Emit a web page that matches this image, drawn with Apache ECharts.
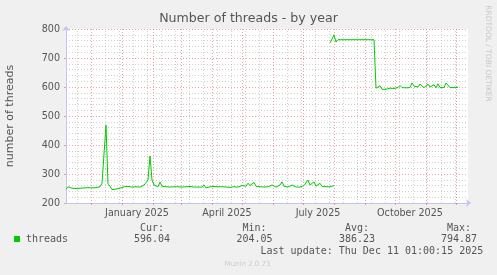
<!DOCTYPE html>
<html><head><meta charset="utf-8">
<script src="https://cdn.jsdelivr.net/npm/echarts@6/dist/echarts.min.js"></script>
<style>html,body{margin:0;padding:0;background:#f0f0f0}#c{width:497px;height:275px}</style>
</head><body><div id="c"></div>
<script>
// ---- data ----
const startDate = '2024-11-06';   // left edge of the plot
const endDate = '2025-12-13';     // right edge of the plot
const stepDays = 2;
const lowStart = '2024-11-06';
const lowValues = [248,256,252,251,253,250,252,251,250,252,
  251,253,258,252,250,253,251,256,268,262,
  468,265,258,246,243,248,250,251,252,256,
  255,257,256,255,258,256,257,255,260,262,
  270,280,362,279,262,258,256,272,258,257,
  256,258,255,257,256,259,256,258,255,257,
  256,255,257,256,255,256,255,256,255,262,
  252,255,256,254,257,255,256,254,256,257,
  255,256,254,257,256,258,255,256,260,256,
  258,268,260,263,271,258,262,256,257,255,
  258,256,257,262,256,255,257,262,273,258,
  256,255,257,262,256,255,256,255,256,260,
  265,279,262,258,273,258,256,268,257,262,
  256,260,256,258,260];
const highStart = '2025-07-28';
const highValues = [752,765,780,755,763,
  763,763,763,763,763,763,763,763,763,763,763,763,763,763,763,763,763,763,
  596,600,604,592,589,592,594,596,598,595,
  597,598,605,598,597,597,596,598,614,603,
  597,600,610,605,598,600,610,600,597,608,
  597,611,598,597,598,614,609,598,597,598,
  596,599];
const monthStarts = ['2024-12-01','2025-01-01','2025-02-01','2025-03-01','2025-04-01','2025-05-01',
  '2025-06-01','2025-07-01','2025-08-01','2025-09-01','2025-10-01','2025-11-01','2025-12-01'];
const labelMonths = ['2025-01-01','2025-04-01','2025-07-01','2025-10-01'];
const labelTexts = ['January 2025','April 2025','July 2025','October 2025'];
const firstMinorGrid = '2024-11-17';
const minorGridDays = 14;
const yTicks = [200,300,400,500,600,700,800];
const seriesName = 'threads';
const statLabels = ['Cur:','Min:','Avg:','Max:'];
const statValues = ['596.04','204.05','386.23','794.87'];
const lastUpdate = 'Last update: Thu Dec 11 01:00:15 2025';

// ---- helpers ----
const DAY = 86400000;
const t0 = Date.parse(startDate);
const dayOf = s => (Date.parse(s) - t0) / DAY;
const xMax = dayOf(endDate);
const series1 = [];
lowValues.forEach((v, i) => series1.push([dayOf(lowStart) + i * stepDays, v]));
series1.push([(dayOf(lowStart) + (lowValues.length - 1) * stepDays + dayOf(highStart)) / 2, '-']);
highValues.forEach((v, i) => series1.push([dayOf(highStart) + i * stepDays, v]));
const monthDays = monthStarts.map(dayOf);
const labelDays = labelMonths.map(s => dayOf(s) + 15);
const minorDays = [];
for (let d = dayOf(firstMinorGrid); d < xMax; d += minorGridDays) {
  if (monthDays.indexOf(d) < 0) minorDays.push(d);
}

const txt = '#555555';
const axisColor = '#c4c4f2';
const redGrid = 'rgba(230,90,90,0.55)';
const grayGrid = 'rgba(150,150,150,0.45)';
const mono = '"DejaVu Sans Mono", monospace';
const sans = '"DejaVu Sans", sans-serif';

const statRight = [170, 272.5, 375, 477];
const graphics = [
  {type:'text', x:10, y:116, rotation:Math.PI/2,
   style:{text:'number of threads', font:'11px ' + sans, fill:txt, align:'center', verticalAlign:'middle'}},
  {type:'text', x:488, y:53.5, rotation:-Math.PI/2,
   style:{text:'RRDTOOL / TOBI OETIKER', font:'7.5px ' + sans, fill:'#c8c8c8', align:'center', verticalAlign:'middle'}},
  {type:'text', x:247.5, y:264,
   style:{text:'Munin 2.0.73', font:'7px ' + sans, fill:'#cccccc', align:'center', verticalAlign:'middle'}},
  {type:'text', x:260.5, y:251.5,
   style:{text:lastUpdate, font:'10px ' + mono, fill:txt, align:'left', verticalAlign:'middle'}}
];
statLabels.forEach((s, i) => {
  graphics.push({type:'text', x:statRight[i] - 6, y:228,
    style:{text:s, font:'10px ' + mono, fill:txt, align:'right', verticalAlign:'middle'}});
  graphics.push({type:'text', x:statRight[i], y:239.5,
    style:{text:statValues[i], font:'10px ' + mono, fill:txt, align:'right', verticalAlign:'middle'}});
});

const chart = echarts.init(document.getElementById('c'), null, {renderer:'canvas'});
chart.setOption({
  animation:false,
  backgroundColor:'#f0f0f0',
  title:{text:'Number of threads - by year', left:'center', top:12, padding:0,
    textStyle:{fontFamily:sans, fontSize:12.6, fontWeight:'normal', color:txt}},
  grid:{left:66, right:29, top:29, bottom:72, show:true, backgroundColor:'#ffffff', borderWidth:0},
  legend:{data:[seriesName], left:14, top:233, padding:0, icon:'rect', itemWidth:6, itemHeight:6,
    textStyle:{fontFamily:mono, fontSize:10, color:txt, lineHeight:12, padding:[0,0,0,1]}},
  xAxis:{type:'value', min:0, max:xMax, position:'bottom', z:3,
    axisLine:{show:true, lineStyle:{color:axisColor}, symbol:['none','arrow'], symbolSize:[6,5], symbolOffset:[0,3]},
    axisTick:{show:true, customValues:monthDays, length:2, lineStyle:{color:redGrid}},
    axisLabel:{show:true, customValues:labelDays, margin:5, color:txt, fontFamily:sans, fontSize:9.6,
      formatter:v => labelTexts[labelDays.indexOf(v)] || ''},
    splitLine:{show:true, lineStyle:{color:redGrid, type:[1,2]}}},
  yAxis:{type:'value', min:yTicks[0], max:yTicks[yTicks.length-1], interval:yTicks[1]-yTicks[0],
    axisLine:{show:true, lineStyle:{color:axisColor}, symbol:['none','arrow'], symbolSize:[6,5], symbolOffset:[0,3]},
    axisTick:{show:true, length:2, lineStyle:{color:redGrid}},
    axisLabel:{color:txt, fontFamily:sans, fontSize:9.6, margin:6},
    splitLine:{show:true, lineStyle:{color:redGrid, type:[1,2]}},
    minorTick:{show:false, splitNumber:5},
    minorSplitLine:{show:true, lineStyle:{color:grayGrid, type:[1,2]}}},
  series:[
    {name:'grid', type:'line', data:[], z:1, silent:true,
      markLine:{silent:true, symbol:'none', animation:false, label:{show:false},
        lineStyle:{color:grayGrid, type:[1,2], width:1},
        emphasis:{disabled:true},
        data:minorDays.map(d => ({xAxis:d}))}},
    {name:seriesName, type:'line', data:series1, showSymbol:false, connectNulls:false,
      lineStyle:{color:'#00cc00', width:1}, itemStyle:{color:'#00cc00'}, z:5}
  ],
  graphic:graphics
});
</script></body></html>
